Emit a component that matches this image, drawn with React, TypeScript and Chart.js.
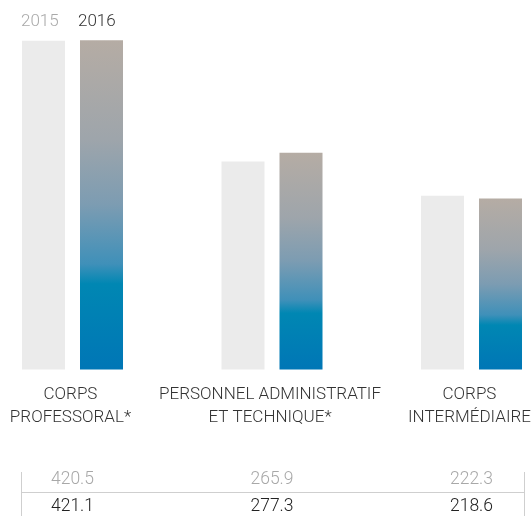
import React, { useEffect, useRef } from "react";
import { Chart, registerables } from "chart.js";

Chart.register(...registerables);

const categories: string[][] = [
  ["CORPS", "PROFESSORAL*"],
  ["PERSONNEL ADMINISTRATIF", "ET TECHNIQUE*"],
  ["CORPS", "INTERMÉDIAIRE"],
];
const seriesNames = ["2015", "2016"];
const values2015 = [420.5, 265.9, 222.3];
const values2016 = [421.1, 277.3, 218.6];
const valueLabels2015 = ["420.5", "265.9", "222.3"];
const valueLabels2016 = ["421.1", "277.3", "218.6"];

const W = 532;
const H = 516;
const FONT = "Roboto";

function gradientFill(c: any) {
  const chart = c.chart;
  const ys = chart.scales?.y;
  if (!ys || !chart.chartArea) return "#0077b6";
  const top = ys.getPixelForValue(values2016[c.dataIndex]);
  const bottom = ys.getPixelForValue(0);
  const g = chart.ctx.createLinearGradient(0, top, 0, bottom);
  g.addColorStop(0, "#b5aca4");
  g.addColorStop(0.3, "#9ea5ab");
  g.addColorStop(0.5, "#7c9cb2");
  g.addColorStop(0.68, "#3f90b9");
  g.addColorStop(0.74, "#0087b3");
  g.addColorStop(1, "#0076b6");
  return g;
}

const overlayPlugin = {
  id: "overlay",
  afterDraw(chart: any) {
    const ctx = chart.ctx;
    const xs = chart.scales.x;
    const m0 = chart.getDatasetMeta(0);
    const m1 = chart.getDatasetMeta(1);
    ctx.save();

    // legend
    ctx.font = `300 17px ${FONT}`;
    ctx.textBaseline = "alphabetic";
    ctx.textAlign = "left";
    const b0 = m0.data[0];
    const b1 = m1.data[0];
    ctx.fillStyle = "#a9a9a9";
    ctx.fillText(seriesNames[0], b0.x - b0.width / 2 - 1, 26);
    ctx.fillStyle = "#333333";
    ctx.fillText(seriesNames[1], b1.x - b1.width / 2 - 2, 26);

    // category labels
    ctx.font = `300 17px ${FONT}`;
    ctx.fillStyle = "#333333";
    ctx.textAlign = "center";
    categories.forEach((lines, i) => {
      const cx = xs.getPixelForValue(i);
      const w = Math.max(...lines.map((l) => ctx.measureText(l).width));
      let x = Math.min(cx - 2, W - w / 2 - 1);
      x = Math.max(x, w / 2 + 1);
      lines.forEach((l, j) => ctx.fillText(l, x, 399 + j * 23));
    });

    // table
    const left = b0.x - b0.width / 2 - 0.5;
    const last = m1.data[m1.data.length - 1];
    const right = last.x + last.width / 2 + 2.5;
    ctx.strokeStyle = "#cfcfcf";
    ctx.lineWidth = 1;
    ctx.beginPath();
    ctx.moveTo(left, 492.5);
    ctx.lineTo(right, 492.5);
    ctx.moveTo(left, 472);
    ctx.lineTo(left, H);
    ctx.moveTo(right, 472);
    ctx.lineTo(right, H);
    ctx.stroke();

    ctx.font = `300 17.5px ${FONT}`;
    values2015.forEach((_, i) => {
      const cx = xs.getPixelForValue(i);
      ctx.fillStyle = "#a8a8a8";
      ctx.fillText(valueLabels2015[i], cx, 484);
      ctx.fillStyle = "#222222";
      ctx.fillText(valueLabels2016[i], cx, 511);
    });
    ctx.restore();
  },
};

export default function App() {
  const ref = useRef<HTMLCanvasElement | null>(null);
  useEffect(() => {
    if (!ref.current) return;
    const chart = new Chart(ref.current, {
      type: "bar",
      data: {
        labels: categories as any,
        datasets: [
          {
            label: seriesNames[0],
            data: values2015,
            backgroundColor: "#ebebeb",
            categoryPercentage: 0.5815,
            barPercentage: 0.7414,
            clip: false as any,
          },
          {
            label: seriesNames[1],
            data: values2016,
            backgroundColor: gradientFill as any,
            categoryPercentage: 0.5815,
            barPercentage: 0.7414,
            clip: false as any,
          },
        ],
      },
      options: {
        responsive: false,
        animation: false,
        devicePixelRatio: 1,
        layout: { padding: { left: 72.5, right: 60.5, top: 25.5, bottom: 146.5 } },
        scales: {
          x: { display: false, offset: false },
          y: { display: false, min: 0, max: 440 },
        },
        plugins: { legend: { display: false }, tooltip: { enabled: false } },
      },
      plugins: [overlayPlugin],
    });
    return () => chart.destroy();
  }, []);
  return (
    <canvas
      ref={ref}
      width={W}
      height={H}
      style={{ position: "fixed", left: 0, top: 0, width: W, height: H, display: "block", background: "#fff" }}
    />
  );
}
